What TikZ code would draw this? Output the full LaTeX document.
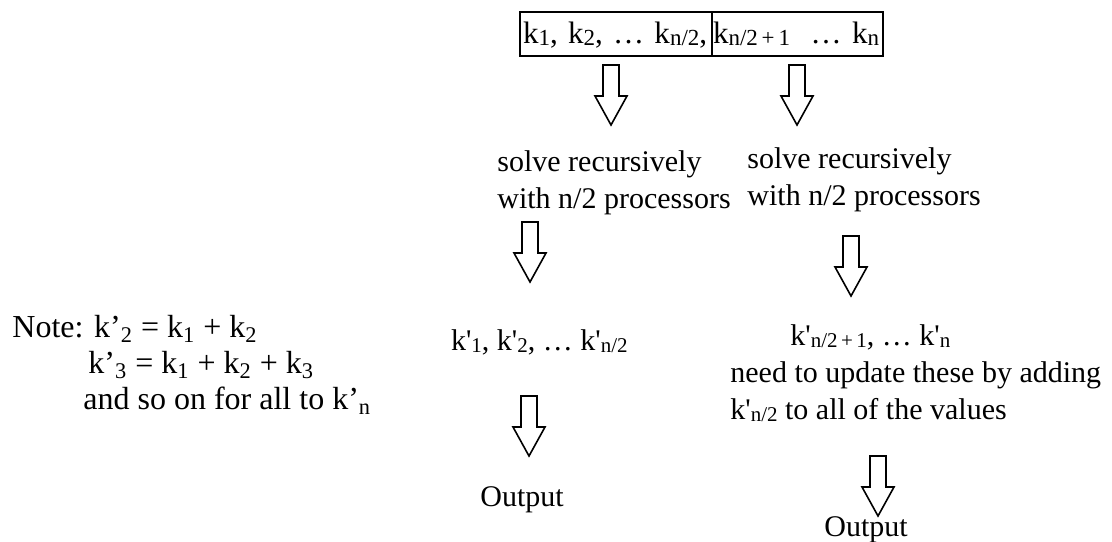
\documentclass[tikz,border=0pt]{standalone}
\usepackage{fontspec}
\newfontfamily\flowfont{Liberation Serif}
% small subscripts that sit almost on the baseline
\newcommand\lo[1]{\raisebox{-1pt}{\fontsize{10.5}{10}\selectfont #1}}
\newcommand\lob[1]{\raisebox{-1pt}{\fontsize{11.5}{10}\selectfont #1}}

\tikzset{
  flow/.style={font=\flowfont\fontsize{15}{18.5}\selectfont, inner sep=0pt},
  note/.style={font=\flowfont\fontsize{16}{18}\selectfont, inner sep=0pt},
  cell/.style={draw, line width=1pt, font=\flowfont\fontsize{15.5}{18}\selectfont, inner sep=0pt,
    minimum height=22pt, text height=11pt, text depth=2pt},
  hollowdown/.pic={
    \draw[line width=0.8pt] (-8,0) -- (8,0) -- (8,31) -- (16,31) -- (0,60) -- (-16,31) -- (-8,31) -- cycle;
  }
}

\begin{document}
\begin{tikzpicture}[x=0.5pt, y=-0.5pt]
\fill[white] (0,0) rectangle (1112,541);
\useasboundingbox (0,0) rectangle (1112,541);

% the input, split in two halves
\node at (519,34) [cell, anchor=west, minimum width=96pt, text width=93pt, align=left] (firsthalf) {k\lob{1}, k\lob{2}, … k\lob{n/2},};
\node at (711,34) [cell, anchor=west, minimum width=85.5pt, text width=84.5pt, align=left] (secondhalf) {k\lob{n/2\,+\,1}\ \ … k\lob{n}};

\pic at (611,65) {hollowdown};
\pic at (797,65) {hollowdown};

\node at (497,150) [flow, anchor=north west, align=left] (lefttask) {solve recursively\\with n/2 processors};
\node at (747,147) [flow, anchor=north west, align=left] (righttask) {solve recursively\\with n/2 processors};

\pic at (530,222) {hollowdown};
\pic at (851,236) {hollowdown};

% partial sums of both halves
\node at (628,350) [flow, anchor=base east] (leftsums) {k'\lo{1}, k'\lo{2}, … k'\lo{n/2}};
\node at (790,345) [flow, anchor=base west] (rightsums) {k'\lo{n/2\,+\,1}, … k'\lo{n}};
\node at (730,361) [flow, anchor=north west, align=left] (update) {need to update these by adding\\k'\lo{n/2} to all of the values};

\pic at (529,396) {hollowdown};
\pic at (878,456) {hollowdown};

\node at (522,506) [flow, anchor=base] (leftout) {Output};
\node at (866,536) [flow, anchor=base] (rightout) {Output};

\node at (12,315) [note, anchor=north west, align=left] (remark) {Note: k’\textsubscript{2} = k\textsubscript{1} + k\textsubscript{2}\\\hspace*{38pt}k’\textsubscript{3} = k\textsubscript{1} + k\textsubscript{2} + k\textsubscript{3}\\\hspace*{35.5pt}and so on for all to k’\textsubscript{n}};
\end{tikzpicture}
\end{document}
